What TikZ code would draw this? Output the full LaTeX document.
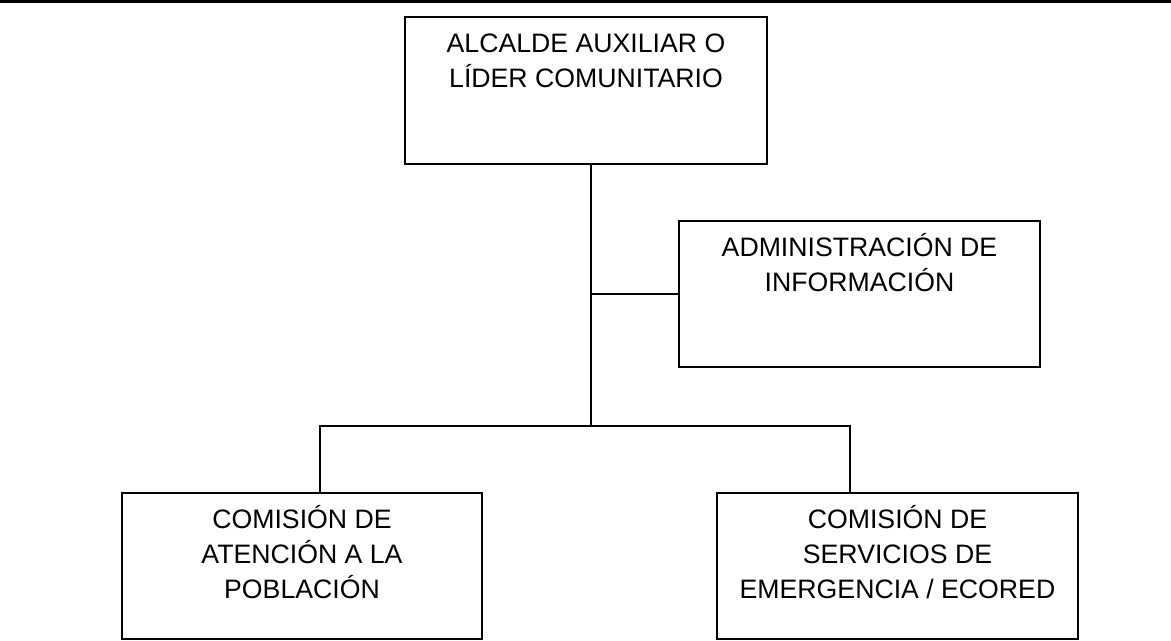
\documentclass[tikz,border=0pt]{standalone}
\usepackage{fontspec}
\setmainfont{Liberation Sans}
\usetikzlibrary{positioning}

\begin{document}
\begin{tikzpicture}[x=0.75pt, y=-0.75pt, line width=1.4pt,
	org node/.style={rectangle, draw, minimum width=270.75pt, minimum height=109.5pt, inner sep=0pt},
	org label/.style={anchor=north, align=center, inner xsep=0pt, inner ysep=8.2pt, font=\fontsize{20}{26.25}\selectfont}]
	\useasboundingbox (0,0) rectangle (1171,641);
	\draw[line width=2.2pt] (0,1.5) -- (1171,1.5);

	\node[org node, minimum width=271.5pt, minimum height=110.25pt, label={[org label]north:{\strut ALCALDE AUXILIAR O\\\strut LÍDER COMUNITARIO}}] (alcalde) at (586,90.5) {};
	\node[org node, label={[org label]north:{\strut ADMINISTRACIÓN DE\\\strut INFORMACIÓN}}] (admin) at (859.5,294) {};
	\node[org node, minimum width=270pt, label={[org label]north:{\strut COMISIÓN DE\\\strut ATENCIÓN A LA\\\strut POBLACIÓN}}] (atencion) at (302,566) {};
	\node[org node, label={[org label]north:{\strut COMISIÓN DE\\\strut SERVICIOS DE\\\strut EMERGENCIA / ECORED}}] (servicios) at (897.5,566) {};

	\coordinate (tee) at (591,294);
	\coordinate (bus) at (591,426);
	\coordinate (bus left) at (320,426);
	\coordinate (bus right) at (850,426);

	\draw (bus |- alcalde.south) -- (bus);
	\draw (tee) -- (admin.west);
	\draw (bus left |- atencion.north) -- (bus left) -- (bus right) -- (bus right |- servicios.north);
\end{tikzpicture}
\end{document}
